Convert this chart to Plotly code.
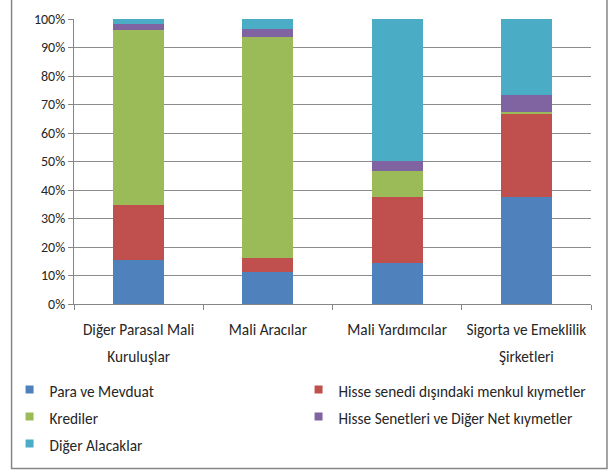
import plotly.graph_objects as go

categories = ["Diğer Parasal Mali<br>Kuruluşlar", "Mali Aracılar", "Mali Yardımcılar", "Sigorta ve Emeklilik<br>Şirketleri"]
para_ve_mevduat = [15.3, 11.3, 14.4, 37.7]
hisse_senedi_disi = [19.3, 4.7, 23.3, 29.0]
krediler = [61.6, 77.8, 9.0, 0.6]
hisse_senetleri = [2.2, 2.8, 3.4, 6.2]
diger_alacaklar = [1.6, 3.4, 49.9, 26.5]

series_names = ["Para ve Mevduat", "Hisse senedi dışındaki menkul kıymetler", "Krediler",
                "Hisse Senetleri ve Diğer Net kıymetler", "Diğer Alacaklar"]
series_values = [para_ve_mevduat, hisse_senedi_disi, krediler, hisse_senetleri, diger_alacaklar]
colors = ["#4F81BD", "#C0504D", "#9BBB59", "#8064A2", "#4BACC6"]

FONT = "Carlito, Calibri, sans-serif"
TXT = 15.3

def span(s, size=TXT):
    return '<span style="font-size:%spx">%s</span>' % (size, s.replace("<br>", "</span><br><span style=\"font-size:%spx\">" % size))

fig = go.Figure()
for name, vals, c in zip(series_names, series_values, colors):
    fig.add_trace(go.Bar(x=categories, y=vals, name=name, marker=dict(color=c, line=dict(width=0)),
                         width=0.394, showlegend=False))
for name, c in zip(series_names, colors):
    fig.add_trace(go.Scatter(x=[None], y=[None], mode="markers", name=span(name),
                             marker=dict(symbol="square", size=8, color=c), showlegend=True))

W, H = 611, 470
L, R, T, B = 73.5, 20, 19.3, 165.5
pw, ph = W - L - R, H - T - B

def px(x):
    return (x - L) / pw

def py(y):
    return (H - B - y) / ph

fig.update_layout(
    width=W, height=H,
    barmode="stack",
    plot_bgcolor="white", paper_bgcolor="white",
    margin=dict(l=L, r=R, t=T, b=B, autoexpand=False),
    font=dict(family=FONT, size=14, color="#262626"),
    xaxis=dict(showgrid=False, showline=True, linecolor="#868686", linewidth=1,
               ticks="outside", tickson="boundaries", ticklen=5, tickcolor="#868686",
               tickangle=0, tickvals=categories, ticktext=[span(c) for c in categories],
               ticklabelstandoff=6,
               tickfont=dict(size=20.4, color="#262626")),
    yaxis=dict(range=[0, 100], dtick=10, ticksuffix="%", showgrid=True, gridcolor="#8c8c8c",
               gridwidth=1, showline=True, linecolor="#868686", ticks="outside", ticklen=5,
               tickcolor="#868686", tickfont=dict(size=14, color="#262626"), zeroline=False),
    legend=dict(orientation="h", x=px(9), y=py(371.5), xanchor="left", yanchor="top",
                entrywidth=244, entrywidthmode="pixels", traceorder="normal",
                font=dict(size=18.5, color="#262626"), itemwidth=30,
                bgcolor="rgba(0,0,0,0)"),
    showlegend=True,
    shapes=[dict(type="rect", xref="paper", yref="paper", x0=px(11), x1=px(607), y0=py(469), y1=py(-5),
                 line=dict(color="#868686", width=1.5), fillcolor="rgba(0,0,0,0)", layer="below")],
)

fig.write_html("out.html", config={"displayModeBar": False})
with open("out.html", "r", encoding="utf-8") as f:
    html = f.read()
html = html.replace("<head>", "<head><style>html,body{margin:0;padding:0;overflow:hidden;}</style>", 1)
with open("out.html", "w", encoding="utf-8") as f:
    f.write(html)
